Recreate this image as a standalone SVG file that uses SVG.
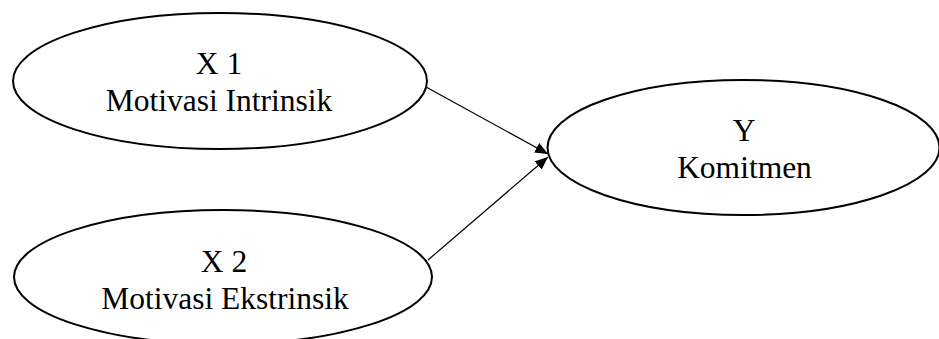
<svg xmlns="http://www.w3.org/2000/svg" width="939" height="339" viewBox="0 0 939 339">
  <style>
    .node { fill: #ffffff; stroke: #000000; stroke-width: 2; }
    .label { font-family: "Liberation Serif", "Times New Roman", serif; font-size: 31.5px; fill: #000000; text-anchor: middle; }
    .edge { stroke: #000000; stroke-width: 1.2; fill: none; marker-end: url(#arrow); }
  </style>
  <defs>
    <marker id="arrow" viewBox="0 0 13 11" refX="13" refY="5.5" markerWidth="13" markerHeight="11" markerUnits="userSpaceOnUse" orient="auto">
      <path d="M0,0 L13,5.5 L0,11 Z" fill="#000000"/>
    </marker>
  </defs>
  <rect width="939" height="339" fill="#ffffff"/>

  <g id="connectors">
    <line class="edge" x1="426" y1="87" x2="548" y2="154"/>
    <line class="edge" x1="428" y1="260" x2="548" y2="157"/>
  </g>

  <g id="x1">
    <ellipse class="node" cx="220" cy="81" rx="207" ry="68"/>
    <text class="label" x="219" y="74">X 1</text>
    <text class="label" x="219" y="111">Motivasi Intrinsik</text>
  </g>

  <g id="x2">
    <ellipse class="node" cx="223" cy="277" rx="209" ry="67"/>
    <text class="label" x="224" y="272">X 2</text>
    <text class="label" x="225" y="309">Motivasi Ekstrinsik</text>
  </g>

  <g id="y">
    <ellipse class="node" cx="743.5" cy="147.5" rx="196" ry="67.5"/>
    <text class="label" x="744" y="141">Y</text>
    <text class="label" x="744.5" y="178">Komitmen</text>
  </g>
</svg>
